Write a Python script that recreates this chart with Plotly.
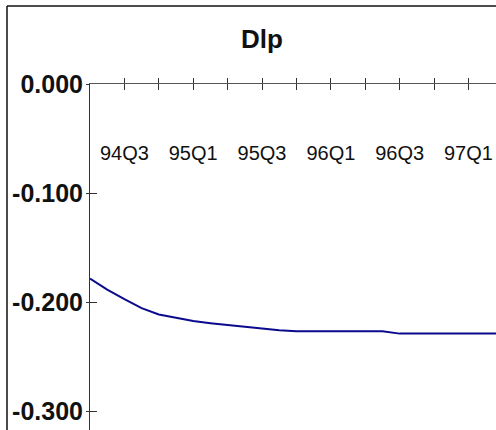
import plotly.graph_objects as go

# Quarters elapsed since 94Q2, sampled every half quarter
t = [0, 0.5, 1, 1.5, 2, 2.5, 3, 3.5, 4, 4.5, 5, 5.5, 6, 6.5, 7, 7.5, 8, 8.5,
     9, 9.5, 10, 10.5, 11, 11.5, 12]
dlp = [-0.1783, -0.1885, -0.1973, -0.2055, -0.2113, -0.2147, -0.2174, -0.2193,
       -0.2211, -0.2229, -0.2243, -0.2257, -0.2267, -0.2267, -0.2267, -0.2267,
       -0.2267, -0.2267, -0.2289, -0.2289, -0.2289, -0.2289, -0.2289, -0.2289,
       -0.2289]

quarter_ticks = [1, 2, 3, 4, 5, 6, 7, 8, 9, 10, 11]
quarter_labels = ["94Q3", "", "95Q1", "", "95Q3", "", "96Q1", "", "96Q3", "", "97Q1"]
y_ticks = [0.0, -0.1, -0.2, -0.3]
y_labels = ["0.000", "-0.100", "-0.200", "-0.300"]

W, H = 496, 430
L, T = 90, 84
PW, PH = W - L, H - T
X_RANGE = [0, 11.8]
Y_RANGE = [-0.3174, 0.0003]

FONT = "Arial, Liberation Sans, sans-serif"
AXC = "#333333"

fig = go.Figure()
fig.add_trace(go.Scatter(x=t, y=dlp, mode="lines",
                         line=dict(color="#0a0a8c", width=2),
                         showlegend=False, hoverinfo="skip"))

# empty traces so the overlaid tick/label axes get drawn
for xa, ya in [("x2", "y"), ("x3", "y"), ("x", "y2")]:
    fig.add_trace(go.Scatter(x=[], y=[], xaxis=xa, yaxis=ya, mode="lines",
                             showlegend=False, hoverinfo="skip"))

fig.update_layout(
    width=W, height=H, autosize=False,
    margin=dict(l=L, r=0, t=T, b=0),
    paper_bgcolor="white", plot_bgcolor="white",
    # axis line along the zero level at the top, ticks poking upward
    xaxis=dict(range=X_RANGE, side="top", anchor="y",
               tickvals=quarter_ticks, showticklabels=False,
               ticks="outside", ticklen=5, tickwidth=1, tickcolor=AXC,
               showline=True, linecolor="#555555", linewidth=1,
               showgrid=False, zeroline=False),
    # same ticks continuing downward
    xaxis2=dict(range=X_RANGE, overlaying="x", side="top", anchor="y",
                tickvals=quarter_ticks, ticks="inside", ticklen=6,
                tickwidth=1, tickcolor=AXC, showticklabels=False,
                showline=False, showgrid=False, zeroline=False),
    # quarter labels hanging below the zero line
    xaxis3=dict(range=X_RANGE, overlaying="x", side="bottom", anchor="free",
                position=1 - (139 - T) / PH,
                tickvals=quarter_ticks, ticktext=quarter_labels, ticks="",
                tickfont=dict(family=FONT, size=20, color="#111111"),
                showline=False, showgrid=False, zeroline=False),
    yaxis=dict(range=Y_RANGE, anchor="x", side="left",
               tickvals=y_ticks, ticktext=y_labels,
               ticks="outside", ticklen=3, tickwidth=1, tickcolor=AXC,
               ticklabelstandoff=-2,
               tickfont=dict(family=FONT, size=25, color="#111111", weight=700),
               showline=True, linecolor=AXC, linewidth=1,
               showgrid=False, zeroline=False),
    yaxis2=dict(range=Y_RANGE, overlaying="y", anchor="x", side="left",
                tickvals=y_ticks, ticks="inside", ticklen=7,
                tickwidth=1, tickcolor=AXC, showticklabels=False,
                showline=False, showgrid=False, zeroline=False),
)

# outer frame
fx = (7 - L) / PW
fy = 1 + (T - 6) / PH
fig.add_shape(type="line", xref="paper", yref="paper",
              x0=fx, x1=fx, y0=-0.2, y1=fy, line=dict(color="#111111", width=1.5))
fig.add_shape(type="line", xref="paper", yref="paper",
              x0=fx, x1=1.3, y0=fy, y1=fy, line=dict(color="#111111", width=1.5))

# chart title
fig.add_annotation(text="Dlp", xref="paper", yref="paper",
                   x=(261.5 - L) / PW, y=1 + (T - 38.5) / PH,
                   xanchor="center", yanchor="middle", showarrow=False,
                   font=dict(family=FONT, size=26, color="#111111", weight=700))

fig.write_html("out.html")
